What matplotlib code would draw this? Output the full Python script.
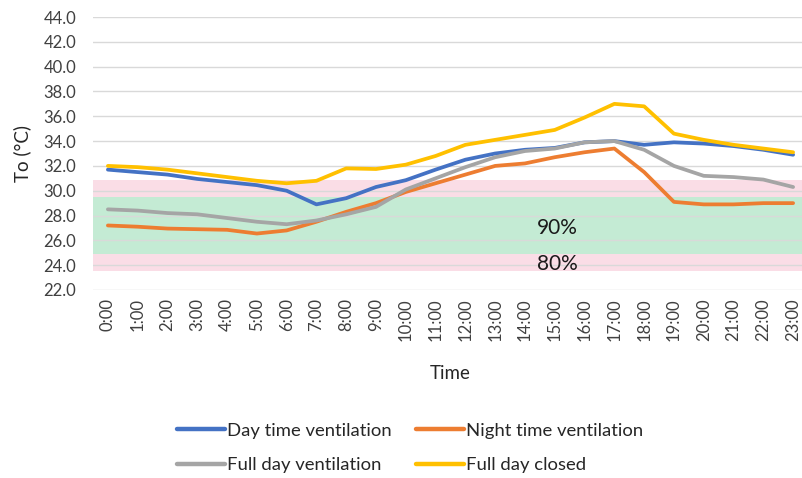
import numpy as np
import matplotlib
matplotlib.use('Agg')
import matplotlib.pyplot as plt

plt.rcParams['font.family'] = ['Lato', 'DejaVu Sans']

hours = ['%d:00' % h for h in range(24)]

day_vent = [31.7, 31.5, 31.3, 30.95, 30.7, 30.45, 30.0, 28.9, 29.4, 30.3, 30.85, 31.7,
            32.5, 33.0, 33.3, 33.45, 33.9, 34.0, 33.7, 33.9, 33.8, 33.6, 33.3, 32.9]
night_vent = [27.2, 27.1, 26.95, 26.9, 26.85, 26.55, 26.8, 27.5, 28.3, 29.0, 29.9, 30.6,
              31.3, 32.0, 32.2, 32.7, 33.1, 33.4, 31.5, 29.1, 28.9, 28.9, 29.0, 29.0]
full_vent = [28.5, 28.4, 28.2, 28.1, 27.8, 27.5, 27.3, 27.6, 28.1, 28.7, 30.1, 31.0,
             31.9, 32.7, 33.2, 33.4, 33.9, 34.0, 33.3, 32.0, 31.2, 31.1, 30.9, 30.3]
full_closed = [32.0, 31.9, 31.7, 31.4, 31.1, 30.8, 30.6, 30.8, 31.8, 31.75, 32.1, 32.8,
               33.7, 34.1, 34.5, 34.9, 35.9, 37.0, 36.8, 34.6, 34.1, 33.7, 33.4, 33.1]

band80 = (23.5, 30.9)
band90 = (24.9, 29.5)

series = [
    ('Day time ventilation', day_vent, '#4472C4'),
    ('Night time ventilation', night_vent, '#ED7D31'),
    ('Full day ventilation', full_vent, '#A5A5A5'),
    ('Full day closed', full_closed, '#FFC000'),
]

fig = plt.figure(figsize=(8.03, 4.78), dpi=100)
ax = fig.add_axes([93 / 803, 1 - 290 / 478, 715 / 803, 273 / 478])

x = np.arange(len(hours))
ax.axhspan(band80[0], band80[1], color='#FADDE6', zorder=0, lw=0)
ax.axhspan(band90[0], band90[1], color='#C4EBD4', zorder=0.1, lw=0)

ax.set_yticks(np.arange(22, 44.1, 2))
ax.yaxis.grid(True, color='#D9D9D9', lw=1, zorder=0.5)
ax.set_axisbelow(True)

lines = []
for name, vals, c in series:
    ln, = ax.plot(x, vals, color=c, lw=2.7, label=name, solid_capstyle='round', zorder=3)
    lines.append(ln)

ax.text(15.1, 27.0, '90%', fontsize=15, ha='center', va='center', color='#1a1a1a')
ax.text(15.1, 24.1, '80%', fontsize=15, ha='center', va='center', color='#1a1a1a')

ax.set_xlim(-0.5, 23.5)
ax.set_ylim(22, 44)
ax.set_xticks(x)
ax.set_xticklabels(hours, rotation=90, fontsize=12, color='#404040')
ax.yaxis.set_major_formatter(matplotlib.ticker.FormatStrFormatter('%.1f'))
ax.tick_params(axis='y', labelsize=12, labelcolor='#404040', length=0, pad=12)
ax.tick_params(axis='x', length=0, pad=6)
for s in ax.spines.values():
    s.set_visible(False)

ax.set_ylabel('To (°C)', fontsize=13.5, color='#262626', labelpad=9)
ax.set_xlabel('Time', fontsize=13.5, color='#262626', labelpad=17)

# legend rows: Day / Night, then Full vent / Full closed
order = [0, 2, 1, 3]
leg = fig.legend([lines[i] for i in order], [series[i][0] for i in order],
                 loc='center', bbox_to_anchor=(410 / 803, 1 - 448 / 478), ncol=2,
                 frameon=False, fontsize=13.3, handlelength=2.6, handletextpad=0.1,
                 columnspacing=1.3, labelspacing=1.0)
for h in leg.legend_handles:
    h.set_linewidth(3.2)
for t in leg.get_texts():
    t.set_color('#262626')

fig.savefig('out.png', dpi=100)
